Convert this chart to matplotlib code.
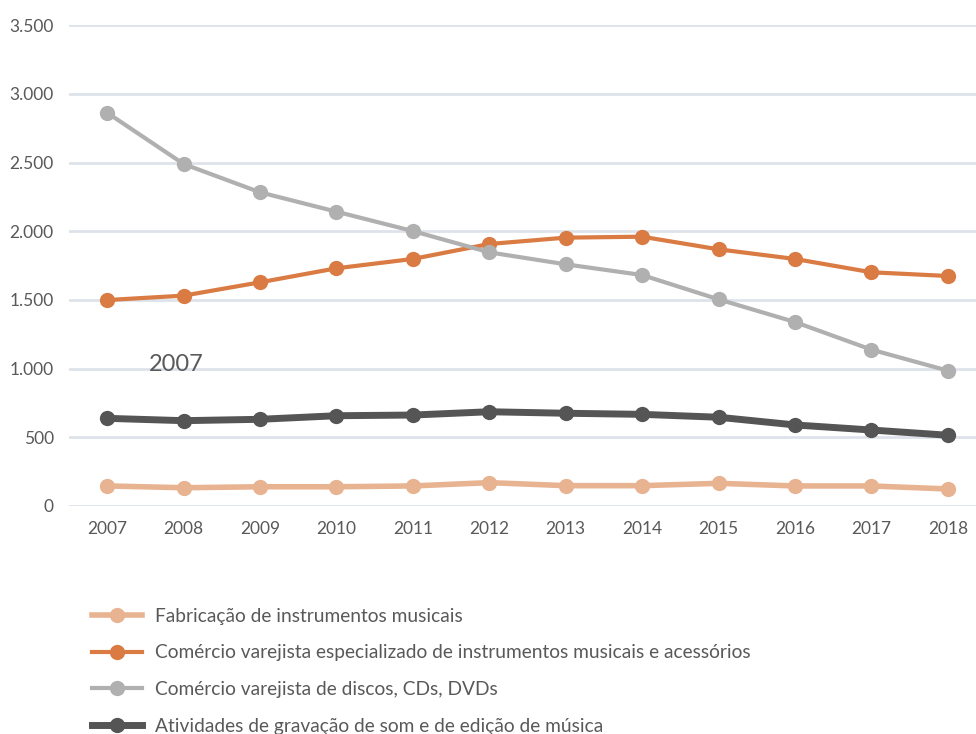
import numpy as np
import matplotlib
matplotlib.use('Agg')
import matplotlib.pyplot as plt

# Data
years = ['2007', '2008', '2009', '2010', '2011', '2012',
         '2013', '2014', '2015', '2016', '2017', '2018']

fabricacao = [146, 133, 140, 140, 146, 170, 148, 148, 165, 146, 146, 124]
comercio_instr = [1499, 1531, 1628, 1730, 1798, 1907, 1953, 1960, 1868, 1798, 1701, 1674]
comercio_discos = [2862, 2489, 2283, 2142, 2001, 1846, 1759, 1681, 1504, 1339, 1138, 985]
gravacao = [638, 621, 631, 657, 662, 686, 675, 667, 646, 590, 553, 515]

labels = ['Fabricação de instrumentos musicais',
          'Comércio varejista especializado de instrumentos musicais e acessórios',
          'Comércio varejista de discos, CDs, DVDs',
          'Atividades de gravação de som e de edição de música']

yticks = [0, 500, 1000, 1500, 2000, 2500, 3000, 3500]
ytick_labels = ['0', '500', '1.000', '1.500', '2.000', '2.500', '3.000', '3.500']

plt.rcParams['font.family'] = ['Lato', 'DejaVu Sans']

text_col = '#595959'

fig = plt.figure(figsize=(9.76, 7.34), dpi=100)
# axes deliberately reaches a little past the right edge (cropped chart)
ax = fig.add_axes([69/976, 1 - 506/734, 917/976, (506 - 25.1)/734])

x = np.arange(len(years))

series = [
    (fabricacao, '#E8B391', 4.0),
    (comercio_instr, '#D97B43', 3.0),
    (comercio_discos, '#B0B0B0', 3.0),
    (gravacao, '#555555', 5.0),
]

handles = []
for (vals, col, lw), lab in zip(series, labels):
    h, = ax.plot(x, vals, color=col, lw=lw, marker='o', markersize=11,
                 markeredgewidth=0, label=lab, zorder=3)
    handles.append(h)

ax.set_xlim(-0.5, len(years) - 0.5)
ax.set_ylim(0, 3500)
ax.set_yticks(yticks)
ax.set_yticklabels(ytick_labels)
ax.set_xticks(x)
ax.set_xticklabels(years)

ax.grid(axis='y', color='#DEE2EA', lw=2)
ax.set_axisbelow(True)
for s in ax.spines.values():
    s.set_visible(False)
ax.tick_params(axis='both', length=0, labelsize=12.5, colors=text_col)
ax.tick_params(axis='y', pad=11)
ax.tick_params(axis='x', pad=11)

# stray label inside the plot
ax.text(0.55, 985, '2007', fontsize=17, color=text_col, ha='left', va='baseline')

# legend below the plot; the last row runs off the bottom edge as in the source
leg = fig.legend(handles=handles, loc='upper left',
                 bbox_to_anchor=(84/976, 1 - 600/734),
                 frameon=False, fontsize=13.8, labelcolor=text_col,
                 handlelength=2.6, handletextpad=0.72, labelspacing=1.03,
                 borderaxespad=0)

fig.savefig('out.png', dpi=100)
